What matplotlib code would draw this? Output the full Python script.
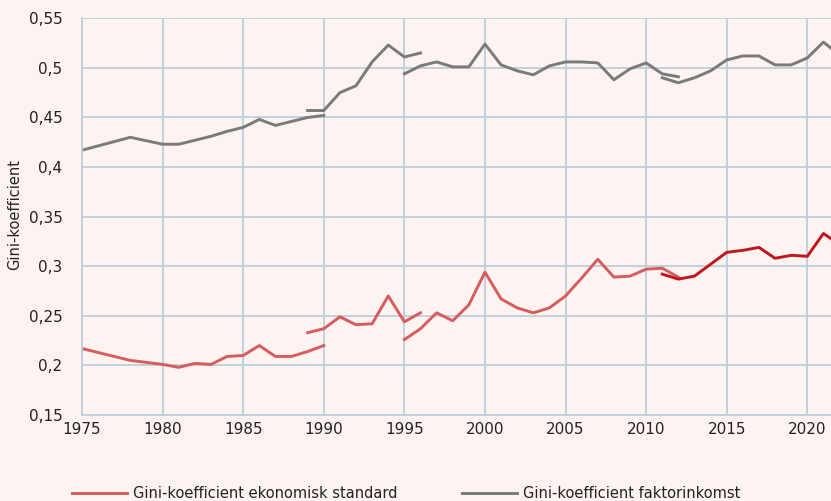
import matplotlib
matplotlib.use("Agg")
import matplotlib.pyplot as plt

plt.rcParams['font.family'] = ['Liberation Sans Narrow', 'DejaVu Sans']

# Gini-koefficient faktorinkomst (grey), four series breaks
fakt_years_1 = [1975, 1978, 1980, 1981, 1983, 1984, 1985, 1986, 1987, 1988, 1989, 1990]
fakt_vals_1 = [0.417, 0.430, 0.423, 0.423, 0.431, 0.436, 0.440, 0.448, 0.442, 0.446, 0.450, 0.452]
fakt_years_2 = [1989, 1990, 1991, 1992, 1993, 1994, 1995, 1996]
fakt_vals_2 = [0.457, 0.457, 0.475, 0.482, 0.506, 0.523, 0.511, 0.515]
fakt_years_3 = list(range(1995, 2013))
fakt_vals_3 = [0.494, 0.502, 0.506, 0.501, 0.501, 0.524, 0.503, 0.497, 0.493, 0.502,
               0.506, 0.506, 0.505, 0.488, 0.499, 0.505, 0.494, 0.491]
fakt_years_4 = list(range(2011, 2023))
fakt_vals_4 = [0.490, 0.485, 0.490, 0.497, 0.508, 0.512, 0.512, 0.503, 0.503, 0.510, 0.526, 0.513]

# Gini-koefficient ekonomisk standard (red), four series breaks
ek_years_1 = [1975, 1978, 1980, 1981, 1982, 1983, 1984, 1985, 1986, 1987, 1988, 1989, 1990]
ek_vals_1 = [0.217, 0.205, 0.201, 0.198, 0.202, 0.201, 0.209, 0.210, 0.220, 0.209, 0.209, 0.214, 0.220]
ek_years_2 = [1989, 1990, 1991, 1992, 1993, 1994, 1995, 1996]
ek_vals_2 = [0.233, 0.237, 0.249, 0.241, 0.242, 0.270, 0.244, 0.253]
ek_years_3 = list(range(1995, 2013))
ek_vals_3 = [0.226, 0.237, 0.253, 0.245, 0.261, 0.294, 0.267, 0.258, 0.253, 0.258,
             0.270, 0.288, 0.307, 0.289, 0.290, 0.297, 0.298, 0.289]
ek_years_4 = list(range(2011, 2023))
ek_vals_4 = [0.292, 0.287, 0.290, 0.302, 0.314, 0.316, 0.319, 0.308, 0.311, 0.310, 0.333, 0.322]

x_ticks = list(range(1975, 2021, 5))
y_ticks = [0.15, 0.2, 0.25, 0.3, 0.35, 0.4, 0.45, 0.5, 0.55]
y_labels = ['0,15', '0,2', '0,25', '0,3', '0,35', '0,4', '0,45', '0,5', '0,55']

bg = '#fdf3f1'
grid_c = '#bccfdb'
grey = '#7a7a7a'
light_red = '#d65c5e'
dark_red = '#c0171e'

fig = plt.figure(figsize=(8.31, 5.01), dpi=100, facecolor=bg)
ax = fig.add_axes([0.0987, 0.1717, 0.9013, 0.7918], facecolor=bg)

lw = 2.1
red_line, = ax.plot(ek_years_1, ek_vals_1, color=light_red, lw=lw)
ax.plot(ek_years_2, ek_vals_2, color=light_red, lw=lw)
ax.plot(ek_years_3, ek_vals_3, color=light_red, lw=lw)
ax.plot(ek_years_4, ek_vals_4, color=dark_red, lw=lw)
grey_line, = ax.plot(fakt_years_1, fakt_vals_1, color=grey, lw=lw)
ax.plot(fakt_years_2, fakt_vals_2, color=grey, lw=lw)
ax.plot(fakt_years_3, fakt_vals_3, color=grey, lw=lw)
ax.plot(fakt_years_4, fakt_vals_4, color=grey, lw=lw)

ax.set_xlim(1975, 2021.47)
ax.set_ylim(0.15, 0.55)
ax.set_xticks(x_ticks)
ax.set_xticklabels([str(t) for t in x_ticks], fontsize=11, color='#222222')
ax.set_yticks(y_ticks)
ax.set_yticklabels(y_labels, fontsize=11, color='#222222')
ax.tick_params(length=0, pad=14)
ax.tick_params(axis='x', pad=5)
ax.grid(True, color=grid_c, lw=1.3)
ax.set_axisbelow(True)
for s in ['top', 'right']:
    ax.spines[s].set_visible(False)
for s in ['left', 'bottom']:
    ax.spines[s].set_color(grid_c)
    ax.spines[s].set_linewidth(1.3)

fig.text(0.018, 0.571, 'Gini-koefficient', rotation=90, va='center', ha='center',
         fontsize=10.5, color='#222222')

# legend: two separate entries placed like the reference
leg1 = fig.legend([red_line], ['Gini-koefficient ekonomisk standard'], loc='center left',
                  bbox_to_anchor=(0.0866, 0.014), frameon=False, fontsize=10.5,
                  handlelength=3.8, handletextpad=0.4, borderpad=0, borderaxespad=0,
                  labelcolor='#222222')
leg2 = fig.legend([grey_line], ['Gini-koefficient faktorinkomst'], loc='center left',
                  bbox_to_anchor=(0.556, 0.014), frameon=False, fontsize=10.5,
                  handlelength=3.8, handletextpad=0.4, borderpad=0, borderaxespad=0,
                  labelcolor='#222222')

fig.savefig('out.png', dpi=100, facecolor=bg)
